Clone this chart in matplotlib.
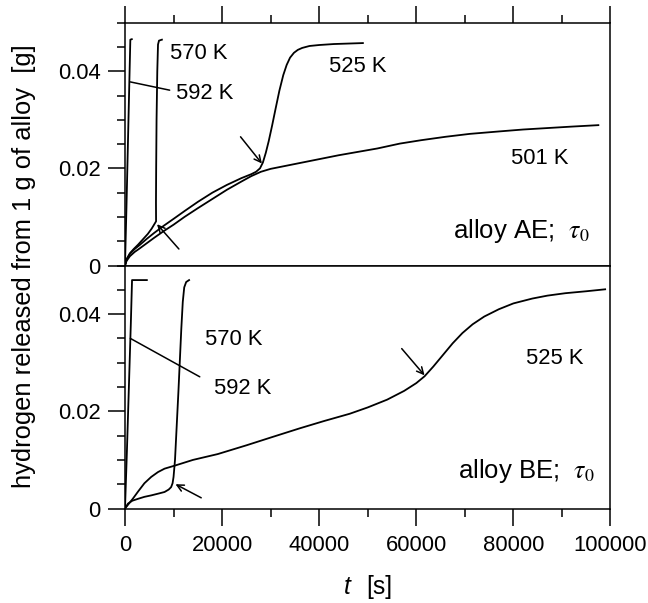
import matplotlib
matplotlib.use("Agg")
import matplotlib.pyplot as plt
from matplotlib.ticker import MultipleLocator, FixedLocator

plt.rcParams['font.family'] = ['Liberation Sans', 'DejaVu Sans']
plt.rcParams['mathtext.fontset'] = 'stix'

# alloy AE (upper panel): time [s], hydrogen released [g]
ae_592_t = [0, 300, 600, 900, 1100, 1400]
ae_592_v = [0, 0.012, 0.025, 0.038, 0.0465, 0.0466]

ae_570_t = [0, 400, 1000, 1800, 2700, 3700, 4700, 5500, 6100, 6400, 6380, 6420,
            6500, 6650, 6800, 7000, 7600]
ae_570_v = [0, 0.0014, 0.0025, 0.0034, 0.0043, 0.0054, 0.0065, 0.0076, 0.0086,
            0.0091, 0.0130, 0.0200, 0.0300, 0.0400, 0.0455, 0.0463, 0.0465]

ae_525_t = [0, 300, 1000, 2000, 3000, 4500, 6000, 8000, 10000, 12250, 15000, 18000,
            21000, 24000, 26000, 27000, 27800, 28400, 29000, 29600, 30300, 31000,
            31800, 32600, 33300, 34000, 34800, 35600, 36500, 38000, 40000, 43000,
            46000, 49000]
ae_525_v = [0, 0.0012, 0.0024, 0.0034, 0.0042, 0.0055, 0.0067, 0.0082, 0.0096,
            0.0112, 0.0131, 0.0150, 0.0166, 0.0180, 0.0188, 0.0193, 0.0200, 0.0212,
            0.0232, 0.0256, 0.0288, 0.0322, 0.0360, 0.0392, 0.0413, 0.0428, 0.0438,
            0.0444, 0.0448, 0.0452, 0.0454, 0.0456, 0.0457, 0.0458]

ae_501_t = [0, 300, 1000, 2000, 3000, 4500, 6000, 8000, 10000, 12250, 15000, 18000,
            21000, 24000, 26000, 28000, 30000, 33000, 36000, 40000, 44000, 48000,
            52000, 56600, 61000, 66000, 71000, 77000, 82000, 87000, 92000, 97500]
ae_501_v = [0, 0.0009, 0.0019, 0.0028, 0.0035, 0.0046, 0.0057, 0.0071, 0.0084,
            0.0100, 0.0118, 0.0137, 0.0156, 0.0173, 0.0184, 0.0193, 0.0199, 0.0205,
            0.0211, 0.0219, 0.0227, 0.0234, 0.0241, 0.0251, 0.0258, 0.0265, 0.0271,
            0.0276, 0.0280, 0.0283, 0.0286, 0.0289]

# alloy BE (lower panel)
be_592_t = [0, 400, 800, 1200, 1450, 4500]
be_592_v = [0, 0.012, 0.025, 0.038, 0.047, 0.047]

be_570_t = [0, 600, 1500, 2700, 4000, 5400, 7000, 8150, 9000, 9500, 9800, 10000,
            10300, 10600, 11000, 11300, 11600, 11900, 12200, 12600, 13200]
be_570_v = [0, 0.0010, 0.0016, 0.0020, 0.0024, 0.0027, 0.0031, 0.0034, 0.0039,
            0.0044, 0.0052, 0.0065, 0.0100, 0.0160, 0.0240, 0.0305, 0.0370, 0.0425,
            0.0455, 0.0466, 0.0470]

be_525_t = [0, 800, 1600, 2700, 4000, 5400, 6800, 8150, 10500, 14000, 19100, 25000,
            30000, 36000, 41000, 46300, 50000, 54000, 57500, 60000, 61700, 63500,
            65500, 67500, 69500, 71600, 74000, 77000, 80000, 83900, 87000, 90700,
            95000, 98900]
be_525_v = [0, 0.0010, 0.0020, 0.0035, 0.0052, 0.0065, 0.0075, 0.0082, 0.0089,
            0.0100, 0.0112, 0.0130, 0.0146, 0.0165, 0.0180, 0.0195, 0.0208, 0.0224,
            0.0242, 0.0258, 0.0272, 0.0292, 0.0316, 0.0340, 0.0361, 0.0379, 0.0395,
            0.0410, 0.0422, 0.0432, 0.0438, 0.0443, 0.0447, 0.0451]

y_ticks = [0, 0.02, 0.04]
y_labels = ['0', '0.02', '0.04']
x_ticks = [0, 20000, 40000, 60000, 80000, 100000]

LW = 1.3
FS = 15.8
fig = plt.figure(figsize=(6.48, 6.03), dpi=100)
ax1 = fig.add_axes([0.1929, 0.5597, 0.7492, 0.4027])
ax2 = fig.add_axes([0.1929, 0.1567, 0.7492, 0.4030])

for ax in (ax1, ax2):
    ax.set_xlim(0, 100000)
    ax.set_ylim(0, 0.05)
    ax.yaxis.set_major_locator(FixedLocator(y_ticks))
    ax.set_yticklabels(y_labels)
    ax.yaxis.set_minor_locator(MultipleLocator(0.005))
    ax.xaxis.set_major_locator(FixedLocator(x_ticks))
    ax.xaxis.set_minor_locator(MultipleLocator(10000))
    ax.tick_params(which='major', direction='out', length=12.2, width=1.1, labelsize=FS)
    ax.tick_params(which='minor', direction='out', length=5.8, width=1.1)
    ax.tick_params(axis='y', pad=5.5)
    ax.tick_params(axis='x', pad=7)
    for s in ax.spines.values():
        s.set_linewidth(1.1)

ax1.tick_params(axis='x', which='both', top=True, bottom=False, labeltop=False, labelbottom=False)
ax2.tick_params(axis='x', which='both', top=False, bottom=True)

for t, v in [(ae_592_t, ae_592_v), (ae_570_t, ae_570_v), (ae_525_t, ae_525_v), (ae_501_t, ae_501_v)]:
    ax1.plot(t, v, color='black', lw=LW)
for t, v in [(be_592_t, be_592_v), (be_570_t, be_570_v), (be_525_t, be_525_v)]:
    ax2.plot(t, v, color='black', lw=LW)

arrow = dict(arrowstyle='->', color='black', lw=1.1, mutation_scale=12, shrinkA=0, shrinkB=0)
line = dict(arrowstyle='-', color='black', lw=1.1, shrinkA=0, shrinkB=0)

# upper panel annotations
ax1.annotate('', xy=(28200, 0.0210), xytext=(23800, 0.0265), arrowprops=arrow)
ax1.annotate('', xy=(6600, 0.0085), xytext=(11100, 0.0034), arrowprops=arrow)
ax1.annotate('', xy=(1100, 0.0378), xytext=(9200, 0.0361), arrowprops=line)
ax1.text(9200, 0.0437, '570 K', fontsize=FS, va='center')
ax1.text(10600, 0.0354, '592 K', fontsize=FS, va='center')
ax1.text(42000, 0.0409, '525 K', fontsize=FS, va='center')
ax1.text(79500, 0.0221, '501 K', fontsize=FS, va='center')
ax1.text(95800, 0.0072, r'alloy AE;  $\tau_0$', fontsize=18.5, va='center', ha='right')

# lower panel annotations
ax2.annotate('', xy=(61700, 0.0274), xytext=(57000, 0.0329), arrowprops=arrow)
ax2.annotate('', xy=(10400, 0.0050), xytext=(15700, 0.0022), arrowprops=arrow)
ax2.annotate('', xy=(1100, 0.0350), xytext=(15400, 0.0271), arrowprops=line)
ax2.text(16400, 0.0348, '570 K', fontsize=FS, va='center')
ax2.text(18400, 0.0247, '592 K', fontsize=FS, va='center')
ax2.text(82600, 0.0309, '525 K', fontsize=FS, va='center')
ax2.text(96800, 0.0078, r'alloy BE;  $\tau_0$', fontsize=18.5, va='center', ha='right')

fig.text(24 / 648, 0.559, 'hydrogen released from 1 g of alloy  [g]', rotation=90,
         fontsize=18.4, ha='center', va='center')
fig.text(351 / 648, 0.0265, 't', style='italic', fontsize=17.7, ha='right', va='center')
fig.text(366 / 648, 0.0265, '[s]', fontsize=17.7, ha='left', va='center')

fig.savefig('out.png', dpi=100)
